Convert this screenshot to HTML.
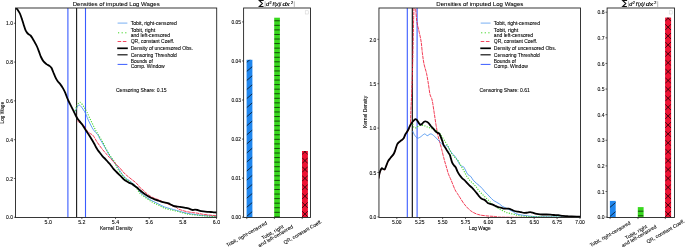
<!DOCTYPE html><html><head><meta charset="utf-8"><style>html,body{margin:0;padding:0;background:#fff;overflow:hidden}svg{display:block;will-change:transform}text{font-family:"Liberation Sans",sans-serif;stroke:#000;stroke-width:0.08px}</style></head><body>
<svg width="685" height="247" viewBox="0 0 685 247">
<rect width="685" height="247" fill="#fff"/>
<clipPath id="clip15"><rect x="15.5" y="8.0" width="201.2" height="209.45"/></clipPath>
<g clip-path="url(#clip15)">
<line x1="67.9" y1="8.0" x2="67.9" y2="217.45" stroke="#3a5cff" stroke-width="1.1"/>
<line x1="76.65" y1="8.0" x2="76.65" y2="217.45" stroke="#000" stroke-width="1.0"/>
<line x1="85.5" y1="8.0" x2="85.5" y2="217.45" stroke="#3a5cff" stroke-width="1.1"/>
<path d="M74.70,112.50 C75.12,111.62 76.43,108.45 77.20,107.20 C77.97,105.95 78.47,104.87 79.30,105.00 C80.13,105.13 81.32,106.90 82.20,108.00 C83.08,109.10 83.90,110.38 84.60,111.60 C85.30,112.82 85.80,113.90 86.40,115.30 C87.00,116.70 87.48,118.38 88.20,120.00 C88.92,121.62 89.88,123.45 90.70,125.00 C91.52,126.55 92.30,128.08 93.10,129.30 C93.90,130.52 94.68,131.37 95.50,132.30 C96.32,133.23 97.32,133.88 98.00,134.90 C98.68,135.92 98.93,137.17 99.60,138.40 C100.27,139.63 101.20,140.95 102.00,142.30 C102.80,143.65 103.60,145.08 104.40,146.50 C105.20,147.92 106.00,149.38 106.80,150.80 C107.60,152.22 108.23,153.47 109.20,155.00 C110.17,156.53 111.38,158.25 112.60,160.00 C113.82,161.75 115.23,163.63 116.50,165.50 C117.77,167.37 119.08,169.52 120.20,171.20 C121.32,172.88 122.20,174.35 123.20,175.60 C124.20,176.85 125.18,177.88 126.20,178.70 C127.22,179.52 128.28,179.80 129.30,180.50 C130.32,181.20 131.40,182.08 132.30,182.90 C133.20,183.72 133.88,184.58 134.70,185.40 C135.52,186.22 136.32,186.70 137.20,187.80 C138.08,188.90 138.52,190.43 140.00,192.00 C141.48,193.57 144.07,195.73 146.10,197.20 C148.13,198.67 150.18,199.70 152.20,200.80 C154.22,201.90 156.18,202.78 158.20,203.80 C160.22,204.82 162.27,206.08 164.30,206.90 C166.33,207.72 168.37,208.12 170.40,208.70 C172.43,209.28 174.22,209.75 176.50,210.40 C178.78,211.05 181.82,212.03 184.10,212.60 C186.38,213.17 188.18,213.45 190.20,213.80 C192.22,214.15 194.18,214.43 196.20,214.70 C198.22,214.97 200.27,215.20 202.30,215.40 C204.33,215.60 205.78,215.73 208.40,215.90 C211.02,216.07 216.40,216.32 218.00,216.40" fill="none" stroke="#4490ee" stroke-width="0.85" stroke-linejoin="round"/>
<path d="M74.10,113.20 C74.62,111.88 76.22,107.13 77.20,105.30 C78.18,103.47 79.00,102.12 80.00,102.20 C81.00,102.28 82.43,104.83 83.20,105.80 C83.97,106.77 83.97,106.92 84.60,108.00 C85.23,109.08 86.18,110.68 87.00,112.30 C87.82,113.92 88.68,115.98 89.50,117.70 C90.32,119.42 91.10,120.97 91.90,122.60 C92.70,124.23 93.60,126.08 94.30,127.50 C95.00,128.92 95.45,129.92 96.10,131.10 C96.75,132.28 97.32,133.13 98.20,134.60 C99.08,136.07 100.47,138.32 101.40,139.90 C102.33,141.48 103.00,142.58 103.80,144.10 C104.60,145.62 105.28,147.27 106.20,149.00 C107.12,150.73 108.28,152.88 109.30,154.50 C110.32,156.12 111.43,157.48 112.30,158.70 C113.17,159.92 113.60,160.08 114.50,161.80 C115.40,163.52 116.55,167.00 117.70,169.00 C118.85,171.00 120.18,172.28 121.40,173.80 C122.62,175.32 123.78,176.88 125.00,178.10 C126.22,179.32 127.48,180.20 128.70,181.10 C129.92,182.00 131.08,182.48 132.30,183.50 C133.52,184.52 134.72,185.57 136.00,187.20 C137.28,188.83 138.32,191.50 140.00,193.30 C141.68,195.10 144.07,196.55 146.10,198.00 C148.13,199.45 150.18,200.83 152.20,202.00 C154.22,203.17 156.18,203.98 158.20,205.00 C160.22,206.02 162.27,207.30 164.30,208.10 C166.33,208.90 168.37,209.30 170.40,209.80 C172.43,210.30 174.22,210.53 176.50,211.10 C178.78,211.67 181.82,212.63 184.10,213.20 C186.38,213.77 188.18,214.20 190.20,214.50 C192.22,214.80 194.18,214.80 196.20,215.00 C198.22,215.20 200.27,215.50 202.30,215.70 C204.33,215.90 205.78,216.05 208.40,216.20 C211.02,216.35 216.40,216.53 218.00,216.60" fill="none" stroke="#3ed622" stroke-width="1.1" stroke-linejoin="round" stroke-dasharray="1.1,1.4"/>
<path d="M77.30,120.80 C77.80,121.17 79.48,122.48 80.30,123.00 C81.12,123.52 81.58,123.47 82.20,123.90 C82.82,124.33 83.40,124.75 84.00,125.60 C84.60,126.45 85.20,128.02 85.80,129.00 C86.40,129.98 86.88,130.75 87.60,131.50 C88.32,132.25 89.28,132.93 90.10,133.50 C90.92,134.07 91.77,134.22 92.50,134.90 C93.23,135.58 93.83,136.55 94.50,137.60 C95.17,138.65 95.65,139.87 96.50,141.20 C97.35,142.53 98.58,144.20 99.60,145.60 C100.62,147.00 101.50,148.23 102.60,149.60 C103.70,150.97 105.05,152.47 106.20,153.80 C107.35,155.13 108.38,156.40 109.50,157.60 C110.62,158.80 111.73,159.82 112.90,161.00 C114.07,162.18 115.28,163.48 116.50,164.70 C117.72,165.92 119.08,167.08 120.20,168.30 C121.32,169.52 122.20,170.88 123.20,172.00 C124.20,173.12 125.18,174.08 126.20,175.00 C127.22,175.92 128.28,176.68 129.30,177.50 C130.32,178.32 131.28,179.10 132.30,179.90 C133.32,180.70 134.38,181.38 135.40,182.30 C136.42,183.22 137.60,184.48 138.40,185.40 C139.20,186.32 139.33,186.95 140.20,187.80 C141.07,188.65 142.42,189.45 143.60,190.50 C144.78,191.55 146.08,193.10 147.30,194.10 C148.52,195.10 149.68,195.78 150.90,196.50 C152.12,197.22 153.38,197.88 154.60,198.40 C155.82,198.92 156.98,199.10 158.20,199.60 C159.42,200.10 160.68,200.83 161.90,201.40 C163.12,201.97 164.28,202.48 165.50,203.00 C166.72,203.52 167.98,204.02 169.20,204.50 C170.42,204.98 171.58,205.40 172.80,205.90 C174.02,206.40 175.63,207.02 176.50,207.50 C177.37,207.98 176.93,208.28 178.00,208.80 C179.07,209.32 181.28,210.10 182.90,210.60 C184.52,211.10 186.08,211.47 187.70,211.80 C189.32,212.13 190.97,212.37 192.60,212.60 C194.23,212.83 195.88,212.93 197.50,213.20 C199.12,213.47 200.68,213.93 202.30,214.20 C203.92,214.47 205.58,214.60 207.20,214.80 C208.82,215.00 210.20,215.20 212.00,215.40 C213.80,215.60 217.00,215.90 218.00,216.00" fill="none" stroke="#f01a38" stroke-width="0.85" stroke-linejoin="round" stroke-dasharray="3.6,0.7"/>
<path d="M15.50,7.40 C15.67,7.57 16.07,7.88 16.50,8.40 C16.93,8.92 17.53,9.65 18.10,10.50 C18.67,11.35 19.30,12.18 19.90,13.50 C20.50,14.82 21.08,16.57 21.70,18.40 C22.32,20.23 22.98,22.58 23.60,24.50 C24.22,26.42 24.83,28.55 25.40,29.90 C25.97,31.25 26.47,31.87 27.00,32.60 C27.53,33.33 28.02,33.82 28.60,34.30 C29.18,34.78 29.88,34.90 30.50,35.50 C31.12,36.10 31.60,36.78 32.30,37.90 C33.00,39.02 33.88,40.68 34.70,42.20 C35.52,43.72 36.47,45.38 37.20,47.00 C37.93,48.62 38.47,50.23 39.10,51.90 C39.73,53.57 40.27,55.42 41.00,57.00 C41.73,58.58 42.58,60.22 43.50,61.40 C44.42,62.58 45.50,63.35 46.50,64.10 C47.50,64.85 48.68,65.28 49.50,65.90 C50.32,66.52 50.78,66.78 51.40,67.80 C52.02,68.82 52.60,70.58 53.20,72.00 C53.80,73.42 54.40,74.98 55.00,76.30 C55.60,77.62 56.25,78.95 56.80,79.90 C57.35,80.85 57.70,81.25 58.30,82.00 C58.90,82.75 59.63,83.38 60.40,84.40 C61.17,85.42 62.08,86.68 62.90,88.10 C63.72,89.52 64.62,91.33 65.30,92.90 C65.98,94.47 66.47,96.15 67.00,97.50 C67.53,98.85 67.98,99.90 68.50,101.00 C69.02,102.10 69.58,103.08 70.10,104.10 C70.62,105.12 71.10,106.10 71.60,107.10 C72.10,108.10 72.60,109.08 73.10,110.10 C73.60,111.12 74.10,112.18 74.60,113.20 C75.10,114.22 75.60,115.28 76.10,116.20 C76.60,117.12 77.00,117.83 77.60,118.70 C78.20,119.57 78.93,120.42 79.70,121.40 C80.47,122.38 81.38,123.45 82.20,124.60 C83.02,125.75 83.80,127.07 84.60,128.30 C85.40,129.53 86.22,130.78 87.00,132.00 C87.78,133.22 88.53,134.38 89.30,135.60 C90.07,136.82 90.80,137.98 91.60,139.30 C92.40,140.62 93.38,142.22 94.10,143.50 C94.82,144.78 95.30,145.92 95.90,147.00 C96.50,148.08 96.98,148.97 97.70,150.00 C98.42,151.03 99.38,152.15 100.20,153.20 C101.02,154.25 101.70,155.28 102.60,156.30 C103.50,157.32 104.68,158.32 105.60,159.30 C106.52,160.28 107.30,161.30 108.10,162.20 C108.90,163.10 109.50,163.58 110.40,164.70 C111.30,165.82 112.48,167.68 113.50,168.90 C114.52,170.12 115.60,171.08 116.50,172.00 C117.40,172.92 118.08,173.60 118.90,174.40 C119.72,175.20 120.58,175.98 121.40,176.80 C122.22,177.62 123.00,178.58 123.80,179.30 C124.60,180.02 125.28,180.50 126.20,181.10 C127.12,181.70 128.28,182.40 129.30,182.90 C130.32,183.40 131.40,183.58 132.30,184.10 C133.20,184.62 133.88,185.38 134.70,186.00 C135.52,186.62 136.32,187.08 137.20,187.80 C138.08,188.52 138.93,189.38 140.00,190.30 C141.07,191.22 142.38,192.38 143.60,193.30 C144.82,194.22 146.08,195.07 147.30,195.80 C148.52,196.53 149.68,197.12 150.90,197.70 C152.12,198.28 153.38,198.82 154.60,199.30 C155.82,199.78 156.98,200.18 158.20,200.60 C159.42,201.02 160.68,201.47 161.90,201.80 C163.12,202.13 164.38,202.35 165.50,202.60 C166.62,202.85 167.68,202.95 168.60,203.30 C169.52,203.65 170.20,204.28 171.00,204.70 C171.80,205.12 172.48,205.50 173.40,205.80 C174.32,206.10 175.73,206.37 176.50,206.50 C177.27,206.63 177.15,206.48 178.00,206.60 C178.85,206.72 180.38,207.00 181.60,207.20 C182.82,207.40 184.18,207.60 185.30,207.80 C186.42,208.00 187.38,208.15 188.30,208.40 C189.22,208.65 190.08,209.03 190.80,209.30 C191.52,209.57 191.90,209.93 192.60,210.00 C193.30,210.07 194.18,209.70 195.00,209.70 C195.82,209.70 196.68,209.82 197.50,210.00 C198.32,210.18 198.90,210.57 199.90,210.80 C200.90,211.03 202.28,211.23 203.50,211.40 C204.72,211.57 205.98,211.70 207.20,211.80 C208.42,211.90 209.58,211.90 210.80,212.00 C212.02,212.10 213.30,212.32 214.50,212.40 C215.70,212.48 217.42,212.48 218.00,212.50" fill="none" stroke="#000" stroke-width="1.8" stroke-linejoin="round"/>
</g>
<rect x="15.5" y="8.0" width="201.2" height="209.45" fill="none" stroke="#222" stroke-width="0.9"/>
<line x1="48.2" y1="217.45" x2="48.2" y2="219.04999999999998" stroke="#222" stroke-width="0.7"/>
<text x="48.20" y="224.05" font-size="5.0" text-anchor="middle" fill="#000" textLength="7.30" lengthAdjust="spacingAndGlyphs">5.0</text>
<line x1="81.86" y1="217.45" x2="81.86" y2="219.04999999999998" stroke="#222" stroke-width="0.7"/>
<text x="81.86" y="224.05" font-size="5.0" text-anchor="middle" fill="#000" textLength="7.30" lengthAdjust="spacingAndGlyphs">5.2</text>
<line x1="115.52" y1="217.45" x2="115.52" y2="219.04999999999998" stroke="#222" stroke-width="0.7"/>
<text x="115.52" y="224.05" font-size="5.0" text-anchor="middle" fill="#000" textLength="7.30" lengthAdjust="spacingAndGlyphs">5.4</text>
<line x1="149.18" y1="217.45" x2="149.18" y2="219.04999999999998" stroke="#222" stroke-width="0.7"/>
<text x="149.18" y="224.05" font-size="5.0" text-anchor="middle" fill="#000" textLength="7.30" lengthAdjust="spacingAndGlyphs">5.6</text>
<line x1="182.83999999999997" y1="217.45" x2="182.83999999999997" y2="219.04999999999998" stroke="#222" stroke-width="0.7"/>
<text x="182.84" y="224.05" font-size="5.0" text-anchor="middle" fill="#000" textLength="7.30" lengthAdjust="spacingAndGlyphs">5.8</text>
<line x1="216.5" y1="217.45" x2="216.5" y2="219.04999999999998" stroke="#222" stroke-width="0.7"/>
<text x="216.50" y="224.05" font-size="5.0" text-anchor="middle" fill="#000" textLength="7.30" lengthAdjust="spacingAndGlyphs">6.0</text>
<line x1="13.9" y1="217.27" x2="15.5" y2="217.27" stroke="#222" stroke-width="0.7"/>
<text x="12.90" y="219.47" font-size="5.0" text-anchor="end" fill="#000" textLength="6.90" lengthAdjust="spacingAndGlyphs">0.0</text>
<line x1="13.9" y1="178.47000000000003" x2="15.5" y2="178.47000000000003" stroke="#222" stroke-width="0.7"/>
<text x="12.90" y="180.67" font-size="5.0" text-anchor="end" fill="#000" textLength="6.90" lengthAdjust="spacingAndGlyphs">0.2</text>
<line x1="13.9" y1="139.67000000000002" x2="15.5" y2="139.67000000000002" stroke="#222" stroke-width="0.7"/>
<text x="12.90" y="141.87" font-size="5.0" text-anchor="end" fill="#000" textLength="6.90" lengthAdjust="spacingAndGlyphs">0.4</text>
<line x1="13.9" y1="100.87000000000002" x2="15.5" y2="100.87000000000002" stroke="#222" stroke-width="0.7"/>
<text x="12.90" y="103.07" font-size="5.0" text-anchor="end" fill="#000" textLength="6.90" lengthAdjust="spacingAndGlyphs">0.6</text>
<line x1="13.9" y1="62.07000000000002" x2="15.5" y2="62.07000000000002" stroke="#222" stroke-width="0.7"/>
<text x="12.90" y="64.27" font-size="5.0" text-anchor="end" fill="#000" textLength="6.90" lengthAdjust="spacingAndGlyphs">0.8</text>
<line x1="13.9" y1="23.27000000000001" x2="15.5" y2="23.27000000000001" stroke="#222" stroke-width="0.7"/>
<text x="12.90" y="25.47" font-size="5.0" text-anchor="end" fill="#000" textLength="6.90" lengthAdjust="spacingAndGlyphs">1.0</text>
<text x="116.20" y="5.70" font-size="6.0" text-anchor="middle" fill="#000" textLength="87.00" lengthAdjust="spacingAndGlyphs">Densities of imputed Log Wages</text>
<text x="116.20" y="229.60" font-size="5.0" text-anchor="middle" fill="#000" textLength="32.60" lengthAdjust="spacingAndGlyphs">Kernel Density</text>
<g transform="translate(3.5,112.7) rotate(-90)">
<text x="0.00" y="0.00" font-size="5.0" text-anchor="middle" fill="#000" textLength="21.60" lengthAdjust="spacingAndGlyphs">Log Wage</text>
</g>
<line x1="117.6" y1="23.1" x2="127.4" y2="23.1" stroke="#4490ee" stroke-width="0.9" opacity="0.8"/>
<line x1="118.0" y1="32.8" x2="127.4" y2="32.8" stroke="#3ed622" stroke-width="1.0" stroke-dasharray="1.2,2.4"/>
<line x1="117.6" y1="41.5" x2="127.4" y2="41.5" stroke="#f01a38" stroke-width="0.8" stroke-dasharray="3.6,1.6"/>
<line x1="117.19999999999999" y1="48.3" x2="127.80000000000001" y2="48.3" stroke="#000" stroke-width="1.7"/>
<line x1="117.39999999999999" y1="54.8" x2="127.60000000000001" y2="54.8" stroke="#111" stroke-width="1.2"/>
<line x1="117.6" y1="64.4" x2="127.4" y2="64.4" stroke="#3a5cff" stroke-width="1.0"/>
<text x="130.70" y="24.80" font-size="5.0" text-anchor="start" fill="#000" textLength="46.20" lengthAdjust="spacingAndGlyphs">Tobit, right-censored</text>
<text x="130.70" y="31.70" font-size="5.0" text-anchor="start" fill="#000" textLength="24.50" lengthAdjust="spacingAndGlyphs">Tobit, right</text>
<text x="130.70" y="36.70" font-size="5.0" text-anchor="start" fill="#000" textLength="39.40" lengthAdjust="spacingAndGlyphs">and left-censored</text>
<text x="130.70" y="43.30" font-size="5.0" text-anchor="start" fill="#000" textLength="43.60" lengthAdjust="spacingAndGlyphs">QR, constant Coeff.</text>
<text x="130.70" y="49.90" font-size="5.0" text-anchor="start" fill="#000" textLength="62.30" lengthAdjust="spacingAndGlyphs">Density of uncensored Obs.</text>
<text x="130.70" y="56.70" font-size="5.0" text-anchor="start" fill="#000" textLength="46.10" lengthAdjust="spacingAndGlyphs">Censoring Threshold</text>
<text x="130.70" y="63.00" font-size="5.0" text-anchor="start" fill="#000" textLength="22.10" lengthAdjust="spacingAndGlyphs">Bounds of</text>
<text x="130.70" y="68.00" font-size="5.0" text-anchor="start" fill="#000" textLength="34.00" lengthAdjust="spacingAndGlyphs">Comp. Window</text>
<text x="115.90" y="91.90" font-size="5.0" text-anchor="start" fill="#000" textLength="50.80" lengthAdjust="spacingAndGlyphs">Censoring Share: 0.15</text>
<clipPath id="bclip243"><rect x="243.6" y="8.0" width="66.9" height="209.45"/></clipPath>
<g clip-path="url(#bclip243)">
<rect x="246.6" y="59.8" width="5.800000000000011" height="157.64999999999998" fill="#1f86ee"/>
<clipPath id="c246"><rect x="246.6" y="59.8" width="5.800000000000011" height="157.64999999999998"/></clipPath>
<g clip-path="url(#c246)">
<path d="M246.60,243.68 L252.40,238.69 M246.60,234.62 L252.40,229.63 M246.60,225.56 L252.40,220.57 M246.60,216.50 L252.40,211.51 M246.60,207.44 L252.40,202.45 M246.60,198.38 L252.40,193.39 M246.60,189.32 L252.40,184.33 M246.60,180.26 L252.40,175.27 M246.60,171.20 L252.40,166.21 M246.60,162.14 L252.40,157.15 M246.60,153.08 L252.40,148.09 M246.60,144.02 L252.40,139.03 M246.60,134.96 L252.40,129.97 M246.60,125.90 L252.40,120.91 M246.60,116.84 L252.40,111.85 M246.60,107.78 L252.40,102.79 M246.60,98.72 L252.40,93.73 M246.60,89.66 L252.40,84.67 M246.60,80.60 L252.40,75.61 M246.60,71.54 L252.40,66.55 M246.60,62.48 L252.40,57.49 M246.60,53.42 L252.40,48.43" stroke="#000" stroke-width="0.7" fill="none"/>
</g>
<rect x="274.2" y="17.7" width="5.699999999999989" height="199.75" fill="#38d81e"/>
<clipPath id="c274"><rect x="274.2" y="17.7" width="5.699999999999989" height="199.75"/></clipPath>
<g clip-path="url(#c274)">
<path d="M274.20,216.86 L279.90,216.86 M274.20,212.30 L279.90,212.30 M274.20,207.74 L279.90,207.74 M274.20,203.18 L279.90,203.18 M274.20,198.62 L279.90,198.62 M274.20,194.06 L279.90,194.06 M274.20,189.50 L279.90,189.50 M274.20,184.94 L279.90,184.94 M274.20,180.38 L279.90,180.38 M274.20,175.82 L279.90,175.82 M274.20,171.26 L279.90,171.26 M274.20,166.70 L279.90,166.70 M274.20,162.14 L279.90,162.14 M274.20,157.58 L279.90,157.58 M274.20,153.02 L279.90,153.02 M274.20,148.46 L279.90,148.46 M274.20,143.90 L279.90,143.90 M274.20,139.34 L279.90,139.34 M274.20,134.78 L279.90,134.78 M274.20,130.22 L279.90,130.22 M274.20,125.66 L279.90,125.66 M274.20,121.10 L279.90,121.10 M274.20,116.54 L279.90,116.54 M274.20,111.98 L279.90,111.98 M274.20,107.42 L279.90,107.42 M274.20,102.86 L279.90,102.86 M274.20,98.30 L279.90,98.30 M274.20,93.74 L279.90,93.74 M274.20,89.18 L279.90,89.18 M274.20,84.62 L279.90,84.62 M274.20,80.06 L279.90,80.06 M274.20,75.50 L279.90,75.50 M274.20,70.94 L279.90,70.94 M274.20,66.38 L279.90,66.38 M274.20,61.82 L279.90,61.82 M274.20,57.26 L279.90,57.26 M274.20,52.70 L279.90,52.70 M274.20,48.14 L279.90,48.14 M274.20,43.58 L279.90,43.58 M274.20,39.02 L279.90,39.02 M274.20,34.46 L279.90,34.46 M274.20,29.90 L279.90,29.90 M274.20,25.34 L279.90,25.34 M274.20,20.78 L279.90,20.78" stroke="#000" stroke-width="0.65" fill="none"/>
</g>
<rect x="302.0" y="151.0" width="5.899999999999977" height="66.44999999999999" fill="#ee1133"/>
<clipPath id="c302"><rect x="302.0" y="151.0" width="5.899999999999977" height="66.44999999999999"/></clipPath>
<g clip-path="url(#c302)">
<path d="M302.00,243.65 L307.90,237.75 M302.00,237.75 L307.90,243.65 M302.00,234.75 L307.90,228.85 M302.00,228.85 L307.90,234.75 M302.00,225.85 L307.90,219.95 M302.00,219.95 L307.90,225.85 M302.00,216.95 L307.90,211.05 M302.00,211.05 L307.90,216.95 M302.00,208.05 L307.90,202.15 M302.00,202.15 L307.90,208.05 M302.00,199.15 L307.90,193.25 M302.00,193.25 L307.90,199.15 M302.00,190.25 L307.90,184.35 M302.00,184.35 L307.90,190.25 M302.00,181.35 L307.90,175.45 M302.00,175.45 L307.90,181.35 M302.00,172.45 L307.90,166.55 M302.00,166.55 L307.90,172.45 M302.00,163.55 L307.90,157.65 M302.00,157.65 L307.90,163.55 M302.00,154.65 L307.90,148.75 M302.00,148.75 L307.90,154.65 M302.00,145.75 L307.90,139.85 M302.00,139.85 L307.90,145.75" stroke="#000" stroke-width="0.7" fill="none"/>
</g>
</g>
<rect x="305.2" y="10.8" width="3" height="3.2" fill="none" stroke="#ccc" stroke-width="0.5"/>
<rect x="243.6" y="8.0" width="66.9" height="209.45" fill="none" stroke="#222" stroke-width="0.9"/>
<line x1="242.0" y1="217.2" x2="243.6" y2="217.2" stroke="#222" stroke-width="0.7"/>
<text x="241.00" y="219.40" font-size="5.0" text-anchor="end" fill="#000" textLength="9.50" lengthAdjust="spacingAndGlyphs">0.00</text>
<line x1="242.0" y1="178.14" x2="243.6" y2="178.14" stroke="#222" stroke-width="0.7"/>
<text x="241.00" y="180.34" font-size="5.0" text-anchor="end" fill="#000" textLength="9.50" lengthAdjust="spacingAndGlyphs">0.01</text>
<line x1="242.0" y1="139.07999999999998" x2="243.6" y2="139.07999999999998" stroke="#222" stroke-width="0.7"/>
<text x="241.00" y="141.28" font-size="5.0" text-anchor="end" fill="#000" textLength="9.50" lengthAdjust="spacingAndGlyphs">0.02</text>
<line x1="242.0" y1="100.01999999999998" x2="243.6" y2="100.01999999999998" stroke="#222" stroke-width="0.7"/>
<text x="241.00" y="102.22" font-size="5.0" text-anchor="end" fill="#000" textLength="9.50" lengthAdjust="spacingAndGlyphs">0.03</text>
<line x1="242.0" y1="60.95999999999998" x2="243.6" y2="60.95999999999998" stroke="#222" stroke-width="0.7"/>
<text x="241.00" y="63.16" font-size="5.0" text-anchor="end" fill="#000" textLength="9.50" lengthAdjust="spacingAndGlyphs">0.04</text>
<line x1="242.0" y1="21.899999999999977" x2="243.6" y2="21.899999999999977" stroke="#222" stroke-width="0.7"/>
<text x="241.00" y="24.10" font-size="5.0" text-anchor="end" fill="#000" textLength="9.50" lengthAdjust="spacingAndGlyphs">0.05</text>
<line x1="246.79999999999998" y1="217.45" x2="246.79999999999998" y2="219.04999999999998" stroke="#222" stroke-width="0.7"/>
<line x1="274.4" y1="217.45" x2="274.4" y2="219.04999999999998" stroke="#222" stroke-width="0.7"/>
<line x1="302.2" y1="217.45" x2="302.2" y2="219.04999999999998" stroke="#222" stroke-width="0.7"/>
<g transform="translate(267.50,224.00) rotate(-30)">
<text x="0.00" y="0.00" font-size="5.0" text-anchor="end" fill="#000" textLength="46.20" lengthAdjust="spacingAndGlyphs">Tobit, right-censored</text>
</g>
<g transform="translate(291.00,223.50) rotate(-30)">
<text x="-8.00" y="0.00" font-size="5.0" text-anchor="end" fill="#000" textLength="24.50" lengthAdjust="spacingAndGlyphs">Tobit, right</text>
<text x="0.00" y="4.90" font-size="5.0" text-anchor="end" fill="#000" textLength="39.40" lengthAdjust="spacingAndGlyphs">and left-censored</text>
</g>
<g transform="translate(322.50,222.50) rotate(-30)">
<text x="0.00" y="0.00" font-size="5.0" text-anchor="end" fill="#000" textLength="43.60" lengthAdjust="spacingAndGlyphs">QR, constant Coeff.</text>
</g>
<g transform="translate(0.00,0)">
<path d="M263.7,0.5 L259.3,0.5 L262.4,3.5 L259.3,6.5 L263.5,6.5" fill="none" stroke="#111" stroke-width="1.05" stroke-linejoin="miter"/>
<line x1="265.1" y1="1.3" x2="265.1" y2="6.9" stroke="#888" stroke-width="0.6"/>
<line x1="294.3" y1="1.3" x2="294.3" y2="6.9" stroke="#888" stroke-width="0.6"/>
<text transform="translate(265.9,5.9) scale(0.1100,0.1000)" x="0" y="0" font-size="50.0" font-style="italic" style="stroke-width:1.6px">d</text>
<text transform="translate(269.4,3.6) scale(0.1000,0.1000)" x="0" y="0" font-size="38.0" style="stroke-width:1.6px">2</text>
<text transform="translate(272.4,5.9) scale(0.1100,0.1000)" x="0" y="0" font-size="50.0" font-style="italic" style="stroke-width:1.6px">f</text>
<text transform="translate(274.6,5.9) scale(0.1000,0.1000)" x="0" y="0" font-size="48.0" style="stroke-width:1.6px">(</text>
<text transform="translate(276.1,5.9) scale(0.1100,0.1000)" x="0" y="0" font-size="48.0" font-style="italic" style="stroke-width:1.6px">x</text>
<text transform="translate(278.6,5.9) scale(0.1000,0.1000)" x="0" y="0" font-size="48.0" style="stroke-width:1.6px">)</text>
<text transform="translate(280.0,5.9) scale(0.1000,0.1000)" x="0" y="0" font-size="48.0" style="stroke-width:1.6px">/</text>
<text transform="translate(282.4,5.9) scale(0.1380,0.1000)" x="0" y="0" font-size="50.0" font-style="italic" style="stroke-width:1.6px">dx</text>
<text transform="translate(290.9,3.6) scale(0.1000,0.1000)" x="0" y="0" font-size="38.0" style="stroke-width:1.6px">2</text>
</g>
<clipPath id="clip378"><rect x="378.95" y="8.0" width="201.55" height="209.45"/></clipPath>
<g clip-path="url(#clip378)">
<line x1="407.3" y1="8.0" x2="407.3" y2="217.45" stroke="#3a5cff" stroke-width="1.1"/>
<line x1="412.3" y1="8.0" x2="412.3" y2="217.45" stroke="#000" stroke-width="1.1"/>
<line x1="417.1" y1="8.0" x2="417.1" y2="217.45" stroke="#3a5cff" stroke-width="1.1"/>
<path d="M378.50,178.80 C378.63,178.18 379.03,176.25 379.30,175.10 C379.57,173.95 379.68,172.98 380.10,171.90 C380.52,170.82 381.25,169.00 381.80,168.60 C382.35,168.20 382.87,169.35 383.40,169.50 C383.93,169.65 384.47,170.18 385.00,169.50 C385.53,168.82 386.07,166.75 386.60,165.40 C387.13,164.05 387.52,162.62 388.20,161.40 C388.88,160.18 389.75,159.32 390.70,158.10 C391.65,156.88 393.10,155.45 393.90,154.10 C394.70,152.75 394.93,151.60 395.50,150.00 C396.07,148.40 396.73,145.73 397.30,144.50 C397.87,143.27 398.25,143.22 398.90,142.60 C399.55,141.98 400.42,141.43 401.20,140.80 C401.98,140.17 402.90,139.78 403.60,138.80 C404.30,137.82 404.72,136.13 405.40,134.90 C406.08,133.67 407.00,132.58 407.70,131.40 C408.40,130.22 409.15,129.03 409.60,127.80 C410.05,126.57 410.18,126.97 410.40,124.00 C410.62,121.03 410.70,114.83 410.90,110.00 C411.10,105.17 411.33,101.67 411.60,95.00 C411.87,88.33 412.23,79.17 412.50,70.00 C412.77,60.83 413.02,48.33 413.20,40.00 C413.38,31.67 413.47,25.33 413.60,20.00 C413.73,14.67 413.83,12.17 414.00,8.00 C414.17,3.83 414.37,-4.50 414.60,-5.00 C414.83,-5.50 415.03,0.63 415.40,5.00 C415.77,9.37 416.15,16.62 416.80,21.20 C417.45,25.78 418.57,29.03 419.30,32.50 C420.03,35.97 420.70,38.67 421.20,42.00 C421.70,45.33 421.83,48.83 422.30,52.50 C422.77,56.17 423.30,60.53 424.00,64.00 C424.70,67.47 425.77,69.97 426.50,73.30 C427.23,76.63 427.82,80.48 428.40,84.00 C428.98,87.52 429.38,91.73 430.00,94.40 C430.62,97.07 431.42,97.03 432.10,100.00 C432.78,102.97 433.43,107.97 434.10,112.20 C434.77,116.43 435.42,121.35 436.10,125.40 C436.78,129.45 437.35,132.83 438.20,136.50 C439.05,140.17 440.50,144.77 441.20,147.40 C441.90,150.03 442.00,150.67 442.40,152.30 C442.80,153.93 443.18,155.58 443.60,157.20 C444.02,158.82 444.38,160.18 444.90,162.00 C445.42,163.82 446.10,166.07 446.70,168.10 C447.30,170.13 447.77,172.20 448.50,174.20 C449.23,176.20 450.02,177.52 451.10,180.10 C452.18,182.68 453.95,187.47 455.00,189.70 C456.05,191.93 456.58,192.20 457.40,193.50 C458.22,194.80 458.77,195.75 459.90,197.50 C461.03,199.25 462.47,201.83 464.20,204.00 C465.93,206.17 468.10,208.78 470.30,210.50 C472.50,212.22 474.87,213.42 477.40,214.30 C479.93,215.18 482.47,215.43 485.50,215.80 C488.53,216.17 492.35,216.27 495.60,216.50 C498.85,216.73 490.77,217.02 505.00,217.20 C519.23,217.38 568.33,217.53 581.00,217.60" fill="none" stroke="#f01a38" stroke-width="0.85" stroke-linejoin="round" stroke-dasharray="3.6,0.7"/>
<path d="M412.60,131.00 C412.75,131.33 413.10,132.22 413.50,133.00 C413.90,133.78 414.33,134.85 415.00,135.70 C415.67,136.55 416.58,137.90 417.50,138.10 C418.42,138.30 419.30,137.60 420.50,136.90 C421.70,136.20 423.58,134.10 424.70,133.90 C425.82,133.70 426.18,135.70 427.20,135.70 C428.22,135.70 429.58,133.80 430.80,133.90 C432.02,134.00 433.30,135.28 434.50,136.30 C435.70,137.32 437.00,138.95 438.00,140.00 C439.00,141.05 439.50,141.60 440.50,142.60 C441.50,143.60 442.87,145.47 444.00,146.00 C445.13,146.53 446.35,145.15 447.30,145.80 C448.25,146.45 448.88,148.62 449.70,149.90 C450.52,151.18 451.38,152.50 452.20,153.50 C453.02,154.50 453.80,154.88 454.60,155.90 C455.40,156.92 456.08,158.07 457.00,159.60 C457.92,161.13 459.28,163.98 460.10,165.10 C460.92,166.22 461.30,166.00 461.90,166.30 C462.50,166.60 463.03,166.12 463.70,166.90 C464.37,167.68 465.22,169.73 465.90,171.00 C466.58,172.27 466.98,173.58 467.80,174.50 C468.62,175.42 469.90,175.55 470.80,176.50 C471.70,177.45 472.28,179.08 473.20,180.20 C474.12,181.32 475.28,182.30 476.30,183.20 C477.32,184.10 478.28,184.68 479.30,185.60 C480.32,186.52 481.48,187.68 482.40,188.70 C483.32,189.72 484.00,190.80 484.80,191.70 C485.60,192.60 486.33,193.22 487.20,194.10 C488.07,194.98 489.00,195.98 490.00,197.00 C491.00,198.02 492.17,199.37 493.20,200.20 C494.23,201.03 495.18,201.40 496.20,202.00 C497.22,202.60 498.28,203.08 499.30,203.80 C500.32,204.52 501.18,205.58 502.30,206.30 C503.42,207.02 504.78,207.50 506.00,208.10 C507.22,208.70 508.38,209.30 509.60,209.90 C510.82,210.50 512.40,211.15 513.30,211.70 C514.20,212.25 514.05,212.72 515.00,213.20 C515.95,213.68 517.65,214.25 519.00,214.60 C520.35,214.95 521.73,215.10 523.10,215.30 C524.47,215.50 525.85,215.63 527.20,215.80 C528.55,215.97 529.52,216.13 531.20,216.30 C532.88,216.47 534.93,216.72 537.30,216.80 C539.67,216.88 538.12,216.73 545.40,216.80 C552.68,216.87 575.07,217.13 581.00,217.20" fill="none" stroke="#4490ee" stroke-width="0.85" stroke-linejoin="round"/>
<path d="M412.80,124.00 C412.97,124.53 413.23,126.57 413.80,127.20 C414.37,127.83 415.28,128.10 416.20,127.80 C417.12,127.50 418.08,125.80 419.30,125.40 C420.52,125.00 422.28,125.20 423.50,125.40 C424.72,125.60 425.58,126.20 426.60,126.60 C427.62,127.00 428.48,127.40 429.60,127.80 C430.72,128.20 432.28,128.60 433.30,129.00 C434.32,129.40 434.92,129.68 435.70,130.20 C436.48,130.72 437.20,131.38 438.00,132.10 C438.80,132.82 439.50,133.22 440.50,134.50 C441.50,135.78 442.77,137.85 444.00,139.80 C445.23,141.75 446.75,144.12 447.90,146.20 C449.05,148.28 449.78,150.47 450.90,152.30 C452.02,154.13 453.38,155.78 454.60,157.20 C455.82,158.62 457.08,159.28 458.20,160.80 C459.32,162.32 460.38,164.68 461.30,166.30 C462.22,167.92 462.82,168.88 463.70,170.50 C464.58,172.12 465.62,174.38 466.60,176.00 C467.58,177.62 468.60,179.00 469.60,180.20 C470.60,181.40 471.58,182.20 472.60,183.20 C473.62,184.20 474.80,185.15 475.70,186.20 C476.60,187.25 477.02,188.28 478.00,189.50 C478.98,190.72 480.38,192.22 481.60,193.50 C482.82,194.78 484.08,195.98 485.30,197.20 C486.52,198.42 487.68,199.58 488.90,200.80 C490.12,202.02 491.38,203.48 492.60,204.50 C493.82,205.52 494.98,206.10 496.20,206.90 C497.42,207.70 498.68,208.60 499.90,209.30 C501.12,210.00 502.28,210.53 503.50,211.10 C504.72,211.67 505.98,212.28 507.20,212.70 C508.42,213.12 509.58,213.32 510.80,213.60 C512.02,213.88 513.13,214.05 514.50,214.40 C515.87,214.75 517.23,215.38 519.00,215.70 C520.77,216.02 523.23,216.15 525.10,216.30 C526.97,216.45 526.88,216.48 530.20,216.60 C533.52,216.72 536.53,216.87 545.00,217.00 C553.47,217.13 575.00,217.33 581.00,217.40" fill="none" stroke="#3ed622" stroke-width="1.1" stroke-linejoin="round" stroke-dasharray="1.1,1.4"/>
<path d="M378.50,178.50 C378.62,177.88 378.95,175.95 379.20,174.80 C379.45,173.65 379.58,172.68 380.00,171.60 C380.42,170.52 381.15,168.72 381.70,168.30 C382.25,167.88 382.77,168.97 383.30,169.10 C383.83,169.23 384.37,169.77 384.90,169.10 C385.43,168.43 385.97,166.43 386.50,165.10 C387.03,163.77 387.42,162.32 388.10,161.10 C388.78,159.88 389.65,159.02 390.60,157.80 C391.55,156.58 393.00,155.15 393.80,153.80 C394.60,152.45 394.85,151.25 395.40,149.70 C395.95,148.15 396.55,145.72 397.10,144.50 C397.65,143.28 398.03,143.07 398.70,142.40 C399.37,141.73 400.30,141.15 401.10,140.50 C401.90,139.85 402.80,139.50 403.50,138.50 C404.20,137.50 404.60,135.78 405.30,134.50 C406.00,133.22 406.88,132.32 407.70,130.80 C408.52,129.28 409.38,126.92 410.20,125.40 C411.02,123.88 411.80,122.72 412.60,121.70 C413.40,120.68 414.30,119.60 415.00,119.30 C415.70,119.00 416.18,119.30 416.80,119.90 C417.42,120.50 418.08,122.08 418.70,122.90 C419.32,123.72 419.90,124.68 420.50,124.80 C421.10,124.92 421.70,124.12 422.30,123.60 C422.90,123.08 423.48,122.05 424.10,121.70 C424.72,121.35 425.28,121.30 426.00,121.50 C426.72,121.70 427.60,122.15 428.40,122.90 C429.20,123.65 429.98,125.05 430.80,126.00 C431.62,126.95 432.48,127.68 433.30,128.60 C434.12,129.52 434.92,130.77 435.70,131.50 C436.48,132.23 437.37,132.58 438.00,133.00 C438.63,133.42 438.80,132.73 439.50,134.00 C440.20,135.27 441.52,138.77 442.20,140.60 C442.88,142.43 443.05,143.77 443.60,145.00 C444.15,146.23 444.88,146.98 445.50,148.00 C446.12,149.02 446.60,149.98 447.30,151.10 C448.00,152.22 449.10,153.48 449.70,154.70 C450.30,155.92 450.48,157.08 450.90,158.40 C451.32,159.72 451.68,161.43 452.20,162.60 C452.72,163.77 453.40,164.58 454.00,165.40 C454.60,166.22 455.23,166.52 455.80,167.50 C456.37,168.48 456.72,169.95 457.40,171.30 C458.08,172.65 459.08,174.43 459.90,175.60 C460.72,176.77 461.50,177.50 462.30,178.30 C463.10,179.10 463.88,179.58 464.70,180.40 C465.52,181.22 466.38,182.33 467.20,183.20 C468.02,184.07 468.80,184.85 469.60,185.60 C470.40,186.35 471.18,186.88 472.00,187.70 C472.82,188.52 473.68,189.55 474.50,190.50 C475.32,191.45 476.15,192.45 476.90,193.40 C477.65,194.35 478.22,195.30 479.00,196.20 C479.78,197.10 480.75,198.23 481.60,198.80 C482.45,199.37 483.38,199.23 484.10,199.60 C484.82,199.97 485.30,200.43 485.90,201.00 C486.50,201.57 486.98,202.53 487.70,203.00 C488.42,203.47 489.38,203.53 490.20,203.80 C491.02,204.07 491.80,204.28 492.60,204.60 C493.40,204.92 494.18,205.32 495.00,205.70 C495.82,206.08 496.68,206.60 497.50,206.90 C498.32,207.20 499.10,207.30 499.90,207.50 C500.70,207.70 501.50,207.92 502.30,208.10 C503.10,208.28 503.78,208.50 504.70,208.60 C505.62,208.70 506.98,208.67 507.80,208.70 C508.62,208.73 508.90,208.60 509.60,208.80 C510.30,209.00 511.18,209.53 512.00,209.90 C512.82,210.27 513.50,210.70 514.50,211.00 C515.50,211.30 516.90,211.50 518.00,211.70 C519.10,211.90 520.08,212.00 521.10,212.20 C522.12,212.40 523.08,212.82 524.10,212.90 C525.12,212.98 526.18,212.82 527.20,212.70 C528.22,212.58 529.28,212.20 530.20,212.20 C531.12,212.20 531.85,212.47 532.70,212.70 C533.55,212.93 534.37,213.35 535.30,213.60 C536.23,213.85 537.13,214.05 538.30,214.20 C539.47,214.35 540.95,214.45 542.30,214.50 C543.65,214.55 545.05,214.47 546.40,214.50 C547.75,214.53 549.15,214.62 550.40,214.70 C551.65,214.78 552.57,214.92 553.90,215.00 C555.23,215.08 556.92,215.05 558.40,215.20 C559.88,215.35 561.32,215.73 562.80,215.90 C564.28,216.07 565.82,216.10 567.30,216.20 C568.78,216.30 569.42,216.42 571.70,216.50 C573.98,216.58 579.45,216.67 581.00,216.70" fill="none" stroke="#000" stroke-width="1.8" stroke-linejoin="round"/>
</g>
<rect x="378.95" y="8.0" width="201.55" height="209.45" fill="none" stroke="#222" stroke-width="0.9"/>
<line x1="396.8" y1="217.45" x2="396.8" y2="219.04999999999998" stroke="#222" stroke-width="0.7"/>
<text x="396.80" y="224.05" font-size="5.0" text-anchor="middle" fill="#000" textLength="9.60" lengthAdjust="spacingAndGlyphs">5.00</text>
<line x1="419.7" y1="217.45" x2="419.7" y2="219.04999999999998" stroke="#222" stroke-width="0.7"/>
<text x="419.70" y="224.05" font-size="5.0" text-anchor="middle" fill="#000" textLength="9.60" lengthAdjust="spacingAndGlyphs">5.25</text>
<line x1="442.6" y1="217.45" x2="442.6" y2="219.04999999999998" stroke="#222" stroke-width="0.7"/>
<text x="442.60" y="224.05" font-size="5.0" text-anchor="middle" fill="#000" textLength="9.60" lengthAdjust="spacingAndGlyphs">5.50</text>
<line x1="465.5" y1="217.45" x2="465.5" y2="219.04999999999998" stroke="#222" stroke-width="0.7"/>
<text x="465.50" y="224.05" font-size="5.0" text-anchor="middle" fill="#000" textLength="9.60" lengthAdjust="spacingAndGlyphs">5.75</text>
<line x1="488.4" y1="217.45" x2="488.4" y2="219.04999999999998" stroke="#222" stroke-width="0.7"/>
<text x="488.40" y="224.05" font-size="5.0" text-anchor="middle" fill="#000" textLength="9.60" lengthAdjust="spacingAndGlyphs">6.00</text>
<line x1="511.3" y1="217.45" x2="511.3" y2="219.04999999999998" stroke="#222" stroke-width="0.7"/>
<text x="511.30" y="224.05" font-size="5.0" text-anchor="middle" fill="#000" textLength="9.60" lengthAdjust="spacingAndGlyphs">6.25</text>
<line x1="534.2" y1="217.45" x2="534.2" y2="219.04999999999998" stroke="#222" stroke-width="0.7"/>
<text x="534.20" y="224.05" font-size="5.0" text-anchor="middle" fill="#000" textLength="9.60" lengthAdjust="spacingAndGlyphs">6.50</text>
<line x1="557.1" y1="217.45" x2="557.1" y2="219.04999999999998" stroke="#222" stroke-width="0.7"/>
<text x="557.10" y="224.05" font-size="5.0" text-anchor="middle" fill="#000" textLength="9.60" lengthAdjust="spacingAndGlyphs">6.75</text>
<line x1="580.0" y1="217.45" x2="580.0" y2="219.04999999999998" stroke="#222" stroke-width="0.7"/>
<text x="580.00" y="224.05" font-size="5.0" text-anchor="middle" fill="#000" textLength="9.60" lengthAdjust="spacingAndGlyphs">7.00</text>
<line x1="377.34999999999997" y1="216.9" x2="378.95" y2="216.9" stroke="#222" stroke-width="0.7"/>
<text x="376.35" y="219.10" font-size="5.0" text-anchor="end" fill="#000" textLength="6.90" lengthAdjust="spacingAndGlyphs">0.0</text>
<line x1="377.34999999999997" y1="172.5" x2="378.95" y2="172.5" stroke="#222" stroke-width="0.7"/>
<text x="376.35" y="174.70" font-size="5.0" text-anchor="end" fill="#000" textLength="6.90" lengthAdjust="spacingAndGlyphs">0.5</text>
<line x1="377.34999999999997" y1="128.10000000000002" x2="378.95" y2="128.10000000000002" stroke="#222" stroke-width="0.7"/>
<text x="376.35" y="130.30" font-size="5.0" text-anchor="end" fill="#000" textLength="6.90" lengthAdjust="spacingAndGlyphs">1.0</text>
<line x1="377.34999999999997" y1="83.70000000000002" x2="378.95" y2="83.70000000000002" stroke="#222" stroke-width="0.7"/>
<text x="376.35" y="85.90" font-size="5.0" text-anchor="end" fill="#000" textLength="6.90" lengthAdjust="spacingAndGlyphs">1.5</text>
<line x1="377.34999999999997" y1="39.30000000000001" x2="378.95" y2="39.30000000000001" stroke="#222" stroke-width="0.7"/>
<text x="376.35" y="41.50" font-size="5.0" text-anchor="end" fill="#000" textLength="6.90" lengthAdjust="spacingAndGlyphs">2.0</text>
<text x="479.80" y="5.70" font-size="6.0" text-anchor="middle" fill="#000" textLength="87.00" lengthAdjust="spacingAndGlyphs">Densities of imputed Log Wages</text>
<text x="479.80" y="229.60" font-size="5.0" text-anchor="middle" fill="#000" textLength="21.60" lengthAdjust="spacingAndGlyphs">Log Wage</text>
<g transform="translate(366.8,111.9) rotate(-90)">
<text x="0.00" y="0.00" font-size="5.0" text-anchor="middle" fill="#000" textLength="32.20" lengthAdjust="spacingAndGlyphs">Kernel Density</text>
</g>
<line x1="480.70000000000005" y1="23.1" x2="490.5" y2="23.1" stroke="#4490ee" stroke-width="0.9" opacity="0.8"/>
<line x1="481.1" y1="32.8" x2="490.5" y2="32.8" stroke="#3ed622" stroke-width="1.0" stroke-dasharray="1.2,2.4"/>
<line x1="480.70000000000005" y1="41.5" x2="490.5" y2="41.5" stroke="#f01a38" stroke-width="0.8" stroke-dasharray="3.6,1.6"/>
<line x1="480.30000000000007" y1="48.3" x2="490.9" y2="48.3" stroke="#000" stroke-width="1.7"/>
<line x1="480.50000000000006" y1="54.8" x2="490.7" y2="54.8" stroke="#111" stroke-width="1.2"/>
<line x1="480.70000000000005" y1="64.4" x2="490.5" y2="64.4" stroke="#3a5cff" stroke-width="1.0"/>
<text x="493.80" y="24.80" font-size="5.0" text-anchor="start" fill="#000" textLength="46.20" lengthAdjust="spacingAndGlyphs">Tobit, right-censored</text>
<text x="493.80" y="31.70" font-size="5.0" text-anchor="start" fill="#000" textLength="24.50" lengthAdjust="spacingAndGlyphs">Tobit, right</text>
<text x="493.80" y="36.70" font-size="5.0" text-anchor="start" fill="#000" textLength="39.40" lengthAdjust="spacingAndGlyphs">and left-censored</text>
<text x="493.80" y="43.30" font-size="5.0" text-anchor="start" fill="#000" textLength="43.60" lengthAdjust="spacingAndGlyphs">QR, constant Coeff.</text>
<text x="493.80" y="49.90" font-size="5.0" text-anchor="start" fill="#000" textLength="62.30" lengthAdjust="spacingAndGlyphs">Density of uncensored Obs.</text>
<text x="493.80" y="56.70" font-size="5.0" text-anchor="start" fill="#000" textLength="46.10" lengthAdjust="spacingAndGlyphs">Censoring Threshold</text>
<text x="493.80" y="63.00" font-size="5.0" text-anchor="start" fill="#000" textLength="22.10" lengthAdjust="spacingAndGlyphs">Bounds of</text>
<text x="493.80" y="68.00" font-size="5.0" text-anchor="start" fill="#000" textLength="34.00" lengthAdjust="spacingAndGlyphs">Comp. Window</text>
<text x="479.60" y="91.70" font-size="5.0" text-anchor="start" fill="#000" textLength="50.20" lengthAdjust="spacingAndGlyphs">Censoring Share: 0.61</text>
<clipPath id="bclip607"><rect x="607.1" y="8.0" width="67.39999999999998" height="209.45"/></clipPath>
<g clip-path="url(#bclip607)">
<rect x="609.9" y="200.9" width="5.800000000000068" height="16.549999999999983" fill="#1f86ee"/>
<clipPath id="c609"><rect x="609.9" y="200.9" width="5.800000000000068" height="16.549999999999983"/></clipPath>
<g clip-path="url(#c609)">
<path d="M609.90,243.68 L615.70,238.69 M609.90,234.62 L615.70,229.63 M609.90,225.56 L615.70,220.57 M609.90,216.50 L615.70,211.51 M609.90,207.44 L615.70,202.45 M609.90,198.38 L615.70,193.39" stroke="#000" stroke-width="0.7" fill="none"/>
</g>
<rect x="637.8" y="207.1" width="5.800000000000068" height="10.349999999999994" fill="#38d81e"/>
<clipPath id="c637"><rect x="637.8" y="207.1" width="5.800000000000068" height="10.349999999999994"/></clipPath>
<g clip-path="url(#c637)">
<path d="M637.80,215.76 L643.60,215.76 M637.80,211.20 L643.60,211.20" stroke="#000" stroke-width="0.65" fill="none"/>
</g>
<rect x="665.1" y="17.6" width="6.0" height="199.85" fill="#ee1133"/>
<clipPath id="c665"><rect x="665.1" y="17.6" width="6.0" height="199.85"/></clipPath>
<g clip-path="url(#c665)">
<path d="M665.10,243.70 L671.10,237.70 M665.10,237.70 L671.10,243.70 M665.10,234.80 L671.10,228.80 M665.10,228.80 L671.10,234.80 M665.10,225.90 L671.10,219.90 M665.10,219.90 L671.10,225.90 M665.10,217.00 L671.10,211.00 M665.10,211.00 L671.10,217.00 M665.10,208.10 L671.10,202.10 M665.10,202.10 L671.10,208.10 M665.10,199.20 L671.10,193.20 M665.10,193.20 L671.10,199.20 M665.10,190.30 L671.10,184.30 M665.10,184.30 L671.10,190.30 M665.10,181.40 L671.10,175.40 M665.10,175.40 L671.10,181.40 M665.10,172.50 L671.10,166.50 M665.10,166.50 L671.10,172.50 M665.10,163.60 L671.10,157.60 M665.10,157.60 L671.10,163.60 M665.10,154.70 L671.10,148.70 M665.10,148.70 L671.10,154.70 M665.10,145.80 L671.10,139.80 M665.10,139.80 L671.10,145.80 M665.10,136.90 L671.10,130.90 M665.10,130.90 L671.10,136.90 M665.10,128.00 L671.10,122.00 M665.10,122.00 L671.10,128.00 M665.10,119.10 L671.10,113.10 M665.10,113.10 L671.10,119.10 M665.10,110.20 L671.10,104.20 M665.10,104.20 L671.10,110.20 M665.10,101.30 L671.10,95.30 M665.10,95.30 L671.10,101.30 M665.10,92.40 L671.10,86.40 M665.10,86.40 L671.10,92.40 M665.10,83.50 L671.10,77.50 M665.10,77.50 L671.10,83.50 M665.10,74.60 L671.10,68.60 M665.10,68.60 L671.10,74.60 M665.10,65.70 L671.10,59.70 M665.10,59.70 L671.10,65.70 M665.10,56.80 L671.10,50.80 M665.10,50.80 L671.10,56.80 M665.10,47.90 L671.10,41.90 M665.10,41.90 L671.10,47.90 M665.10,39.00 L671.10,33.00 M665.10,33.00 L671.10,39.00 M665.10,30.10 L671.10,24.10 M665.10,24.10 L671.10,30.10 M665.10,21.20 L671.10,15.20 M665.10,15.20 L671.10,21.20 M665.10,12.30 L671.10,6.30 M665.10,6.30 L671.10,12.30" stroke="#000" stroke-width="0.7" fill="none"/>
</g>
</g>
<rect x="669.2" y="10.8" width="3" height="3.2" fill="none" stroke="#ccc" stroke-width="0.5"/>
<rect x="607.1" y="8.0" width="67.39999999999998" height="209.45" fill="none" stroke="#222" stroke-width="0.9"/>
<line x1="605.5" y1="217.1" x2="607.1" y2="217.1" stroke="#222" stroke-width="0.7"/>
<text x="604.50" y="219.30" font-size="5.0" text-anchor="end" fill="#000" textLength="7.00" lengthAdjust="spacingAndGlyphs">0.0</text>
<line x1="605.5" y1="191.49" x2="607.1" y2="191.49" stroke="#222" stroke-width="0.7"/>
<text x="604.50" y="193.69" font-size="5.0" text-anchor="end" fill="#000" textLength="7.00" lengthAdjust="spacingAndGlyphs">0.1</text>
<line x1="605.5" y1="165.88" x2="607.1" y2="165.88" stroke="#222" stroke-width="0.7"/>
<text x="604.50" y="168.08" font-size="5.0" text-anchor="end" fill="#000" textLength="7.00" lengthAdjust="spacingAndGlyphs">0.2</text>
<line x1="605.5" y1="140.26999999999998" x2="607.1" y2="140.26999999999998" stroke="#222" stroke-width="0.7"/>
<text x="604.50" y="142.47" font-size="5.0" text-anchor="end" fill="#000" textLength="7.00" lengthAdjust="spacingAndGlyphs">0.3</text>
<line x1="605.5" y1="114.66" x2="607.1" y2="114.66" stroke="#222" stroke-width="0.7"/>
<text x="604.50" y="116.86" font-size="5.0" text-anchor="end" fill="#000" textLength="7.00" lengthAdjust="spacingAndGlyphs">0.4</text>
<line x1="605.5" y1="89.04999999999998" x2="607.1" y2="89.04999999999998" stroke="#222" stroke-width="0.7"/>
<text x="604.50" y="91.25" font-size="5.0" text-anchor="end" fill="#000" textLength="7.00" lengthAdjust="spacingAndGlyphs">0.5</text>
<line x1="605.5" y1="63.44" x2="607.1" y2="63.44" stroke="#222" stroke-width="0.7"/>
<text x="604.50" y="65.64" font-size="5.0" text-anchor="end" fill="#000" textLength="7.00" lengthAdjust="spacingAndGlyphs">0.6</text>
<line x1="605.5" y1="37.83000000000001" x2="607.1" y2="37.83000000000001" stroke="#222" stroke-width="0.7"/>
<text x="604.50" y="40.03" font-size="5.0" text-anchor="end" fill="#000" textLength="7.00" lengthAdjust="spacingAndGlyphs">0.7</text>
<line x1="605.5" y1="12.219999999999999" x2="607.1" y2="12.219999999999999" stroke="#222" stroke-width="0.7"/>
<text x="604.50" y="14.42" font-size="5.0" text-anchor="end" fill="#000" textLength="7.00" lengthAdjust="spacingAndGlyphs">0.8</text>
<line x1="610.1" y1="217.45" x2="610.1" y2="219.04999999999998" stroke="#222" stroke-width="0.7"/>
<line x1="638.0" y1="217.45" x2="638.0" y2="219.04999999999998" stroke="#222" stroke-width="0.7"/>
<line x1="665.3000000000001" y1="217.45" x2="665.3000000000001" y2="219.04999999999998" stroke="#222" stroke-width="0.7"/>
<g transform="translate(631.00,224.00) rotate(-30)">
<text x="0.00" y="0.00" font-size="5.0" text-anchor="end" fill="#000" textLength="46.20" lengthAdjust="spacingAndGlyphs">Tobit, right-censored</text>
</g>
<g transform="translate(654.50,223.50) rotate(-30)">
<text x="-8.00" y="0.00" font-size="5.0" text-anchor="end" fill="#000" textLength="24.50" lengthAdjust="spacingAndGlyphs">Tobit, right</text>
<text x="0.00" y="4.90" font-size="5.0" text-anchor="end" fill="#000" textLength="39.40" lengthAdjust="spacingAndGlyphs">and left-censored</text>
</g>
<g transform="translate(685.20,222.00) rotate(-30)">
<text x="0.00" y="0.00" font-size="5.0" text-anchor="end" fill="#000" textLength="43.20" lengthAdjust="spacingAndGlyphs">QR, constant Coeff.</text>
</g>
<g transform="translate(363.40,0)">
<path d="M263.7,0.5 L259.3,0.5 L262.4,3.5 L259.3,6.5 L263.5,6.5" fill="none" stroke="#111" stroke-width="1.05" stroke-linejoin="miter"/>
<line x1="265.1" y1="1.3" x2="265.1" y2="6.9" stroke="#888" stroke-width="0.6"/>
<line x1="294.3" y1="1.3" x2="294.3" y2="6.9" stroke="#888" stroke-width="0.6"/>
<text transform="translate(265.9,5.9) scale(0.1100,0.1000)" x="0" y="0" font-size="50.0" font-style="italic" style="stroke-width:1.6px">d</text>
<text transform="translate(269.4,3.6) scale(0.1000,0.1000)" x="0" y="0" font-size="38.0" style="stroke-width:1.6px">2</text>
<text transform="translate(272.4,5.9) scale(0.1100,0.1000)" x="0" y="0" font-size="50.0" font-style="italic" style="stroke-width:1.6px">f</text>
<text transform="translate(274.6,5.9) scale(0.1000,0.1000)" x="0" y="0" font-size="48.0" style="stroke-width:1.6px">(</text>
<text transform="translate(276.1,5.9) scale(0.1100,0.1000)" x="0" y="0" font-size="48.0" font-style="italic" style="stroke-width:1.6px">x</text>
<text transform="translate(278.6,5.9) scale(0.1000,0.1000)" x="0" y="0" font-size="48.0" style="stroke-width:1.6px">)</text>
<text transform="translate(280.0,5.9) scale(0.1000,0.1000)" x="0" y="0" font-size="48.0" style="stroke-width:1.6px">/</text>
<text transform="translate(282.4,5.9) scale(0.1380,0.1000)" x="0" y="0" font-size="50.0" font-style="italic" style="stroke-width:1.6px">dx</text>
<text transform="translate(290.9,3.6) scale(0.1000,0.1000)" x="0" y="0" font-size="38.0" style="stroke-width:1.6px">2</text>
</g>
</svg></body></html>
